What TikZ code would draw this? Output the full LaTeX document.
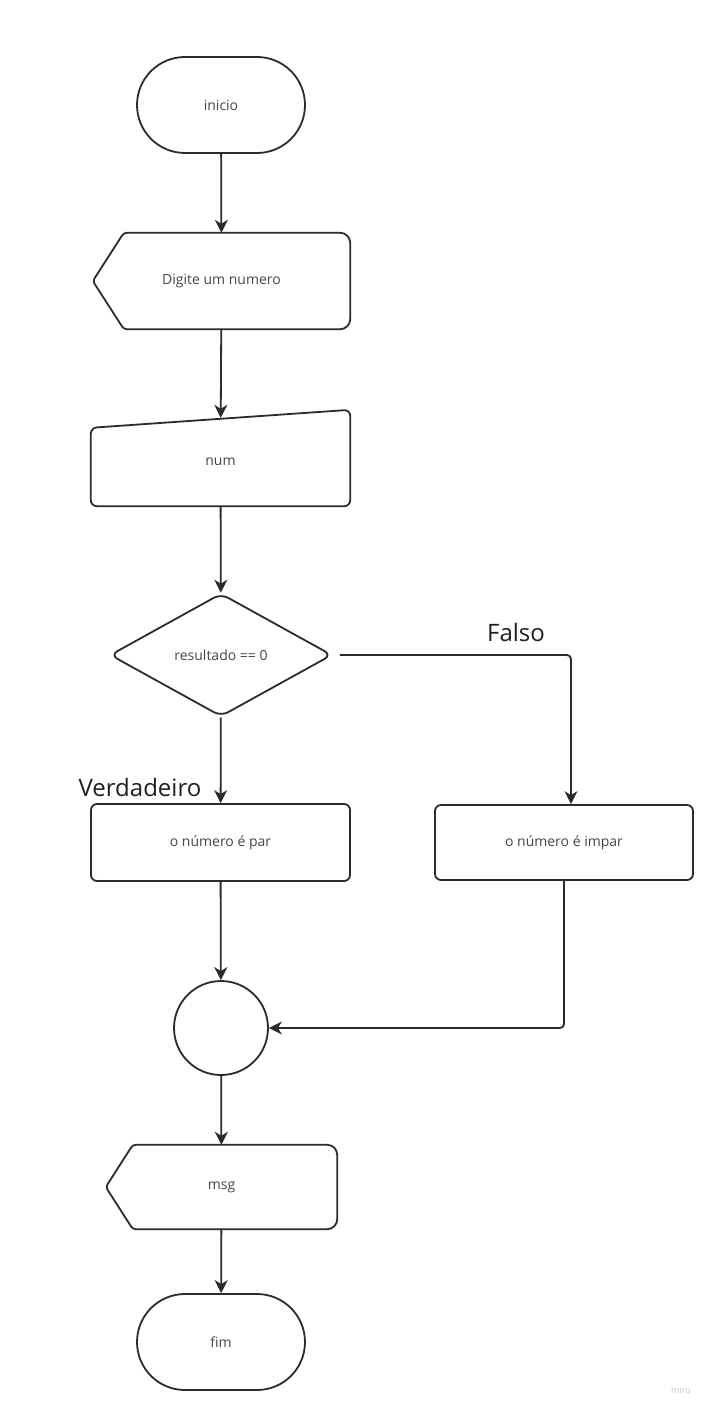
\documentclass[tikz,border=0pt]{standalone}
\usepackage{fontspec}
\setmainfont{Open Sans}
\usetikzlibrary{arrows.meta,positioning,calc,shapes.geometric,shapes.misc}
\definecolor{traco}{HTML}{2B2B2B}
\definecolor{texto}{HTML}{454545}
\tikzset{
  lin/.style={draw=traco,line width=1.8pt},
  seta/.style={lin,-{Stealth[length=13pt,width=13pt,inset=4pt]}},
  term/.style={rounded rectangle,lin,minimum width=168,minimum height=96,inner sep=0pt},
  caixa/.style={rectangle,rounded corners=6,lin,minimum width=259,minimum height=77},
  grande/.style={font=\fontsize{24}{28}\selectfont,text=black!88},
}
\begin{document}
\begin{tikzpicture}[x=1pt,y=-1pt,font=\fontsize{14}{17}\selectfont,text=texto]
  \useasboundingbox (0,0) rectangle (708,1410);
  % blocos
  \node[term] (inicio) at (221,105) {inicio};
  \node[minimum width=257,minimum height=96] (digite) at (221.5,281) {Digite um numero};
  \node[minimum width=259,minimum height=88] (num) at (220.5,462) {num};
  \node[diamond,lin,aspect=1.82,minimum width=222,minimum height=123,inner sep=0pt,
    rounded corners=8] (teste) at (221,655) {resultado == 0};
  \node[caixa] (par) at (220.5,842.5) {o número é par};
  \node[caixa,minimum width=258,minimum height=75] (impar) at (564,842.5) {o número é impar};
  \node[circle,lin,minimum size=94,inner sep=0pt] (junta) at (221,1028) {};
  \node[minimum width=231,minimum height=84] (msg) at (221.5,1187) {msg};
  \node[term] (fim) at (221,1342) {fim};
  % contornos de saida e entrada manual
  \foreach \n/\d in {digite/31,msg/27}
    \draw[lin,rounded corners=3] (\n.west) -- ([xshift=\d]\n.north west)
      [rounded corners=10] -- (\n.north east) -- (\n.south east)
      [rounded corners=3] -- ([xshift=\d]\n.south west) -- cycle;
  \draw[lin,rounded corners=6] ([yshift=-10]num.north west) -- ([yshift=8]num.north east)
    -- (num.south east) -- (num.south west) -- cycle;
  % rotulos
  \node[grande] (verd) at (140,787) {Verdadeiro};
  \node[grande] (falso) at (516,632) {Falso};
  \node[font=\fontsize{9}{10}\selectfont,text=black!22] (marca) at (681,1390) {miro};
  % setas
  \draw[seta] (inicio) -- (digite);
  \draw[seta] (digite) -- (num);
  \draw[seta] (num) -- (teste);
  \draw[seta] (teste) -- (par);
  \draw[seta,rounded corners=4,shorten <=7pt] (teste.east) -| ([xshift=7]impar.north);
  \draw[seta] (par) -- (junta);
  \draw[seta,rounded corners=4] (impar.south) |- (junta.east);
  \draw[seta] (junta) -- (msg);
  \draw[seta] (msg) -- (fim);
\end{tikzpicture}
\end{document}
